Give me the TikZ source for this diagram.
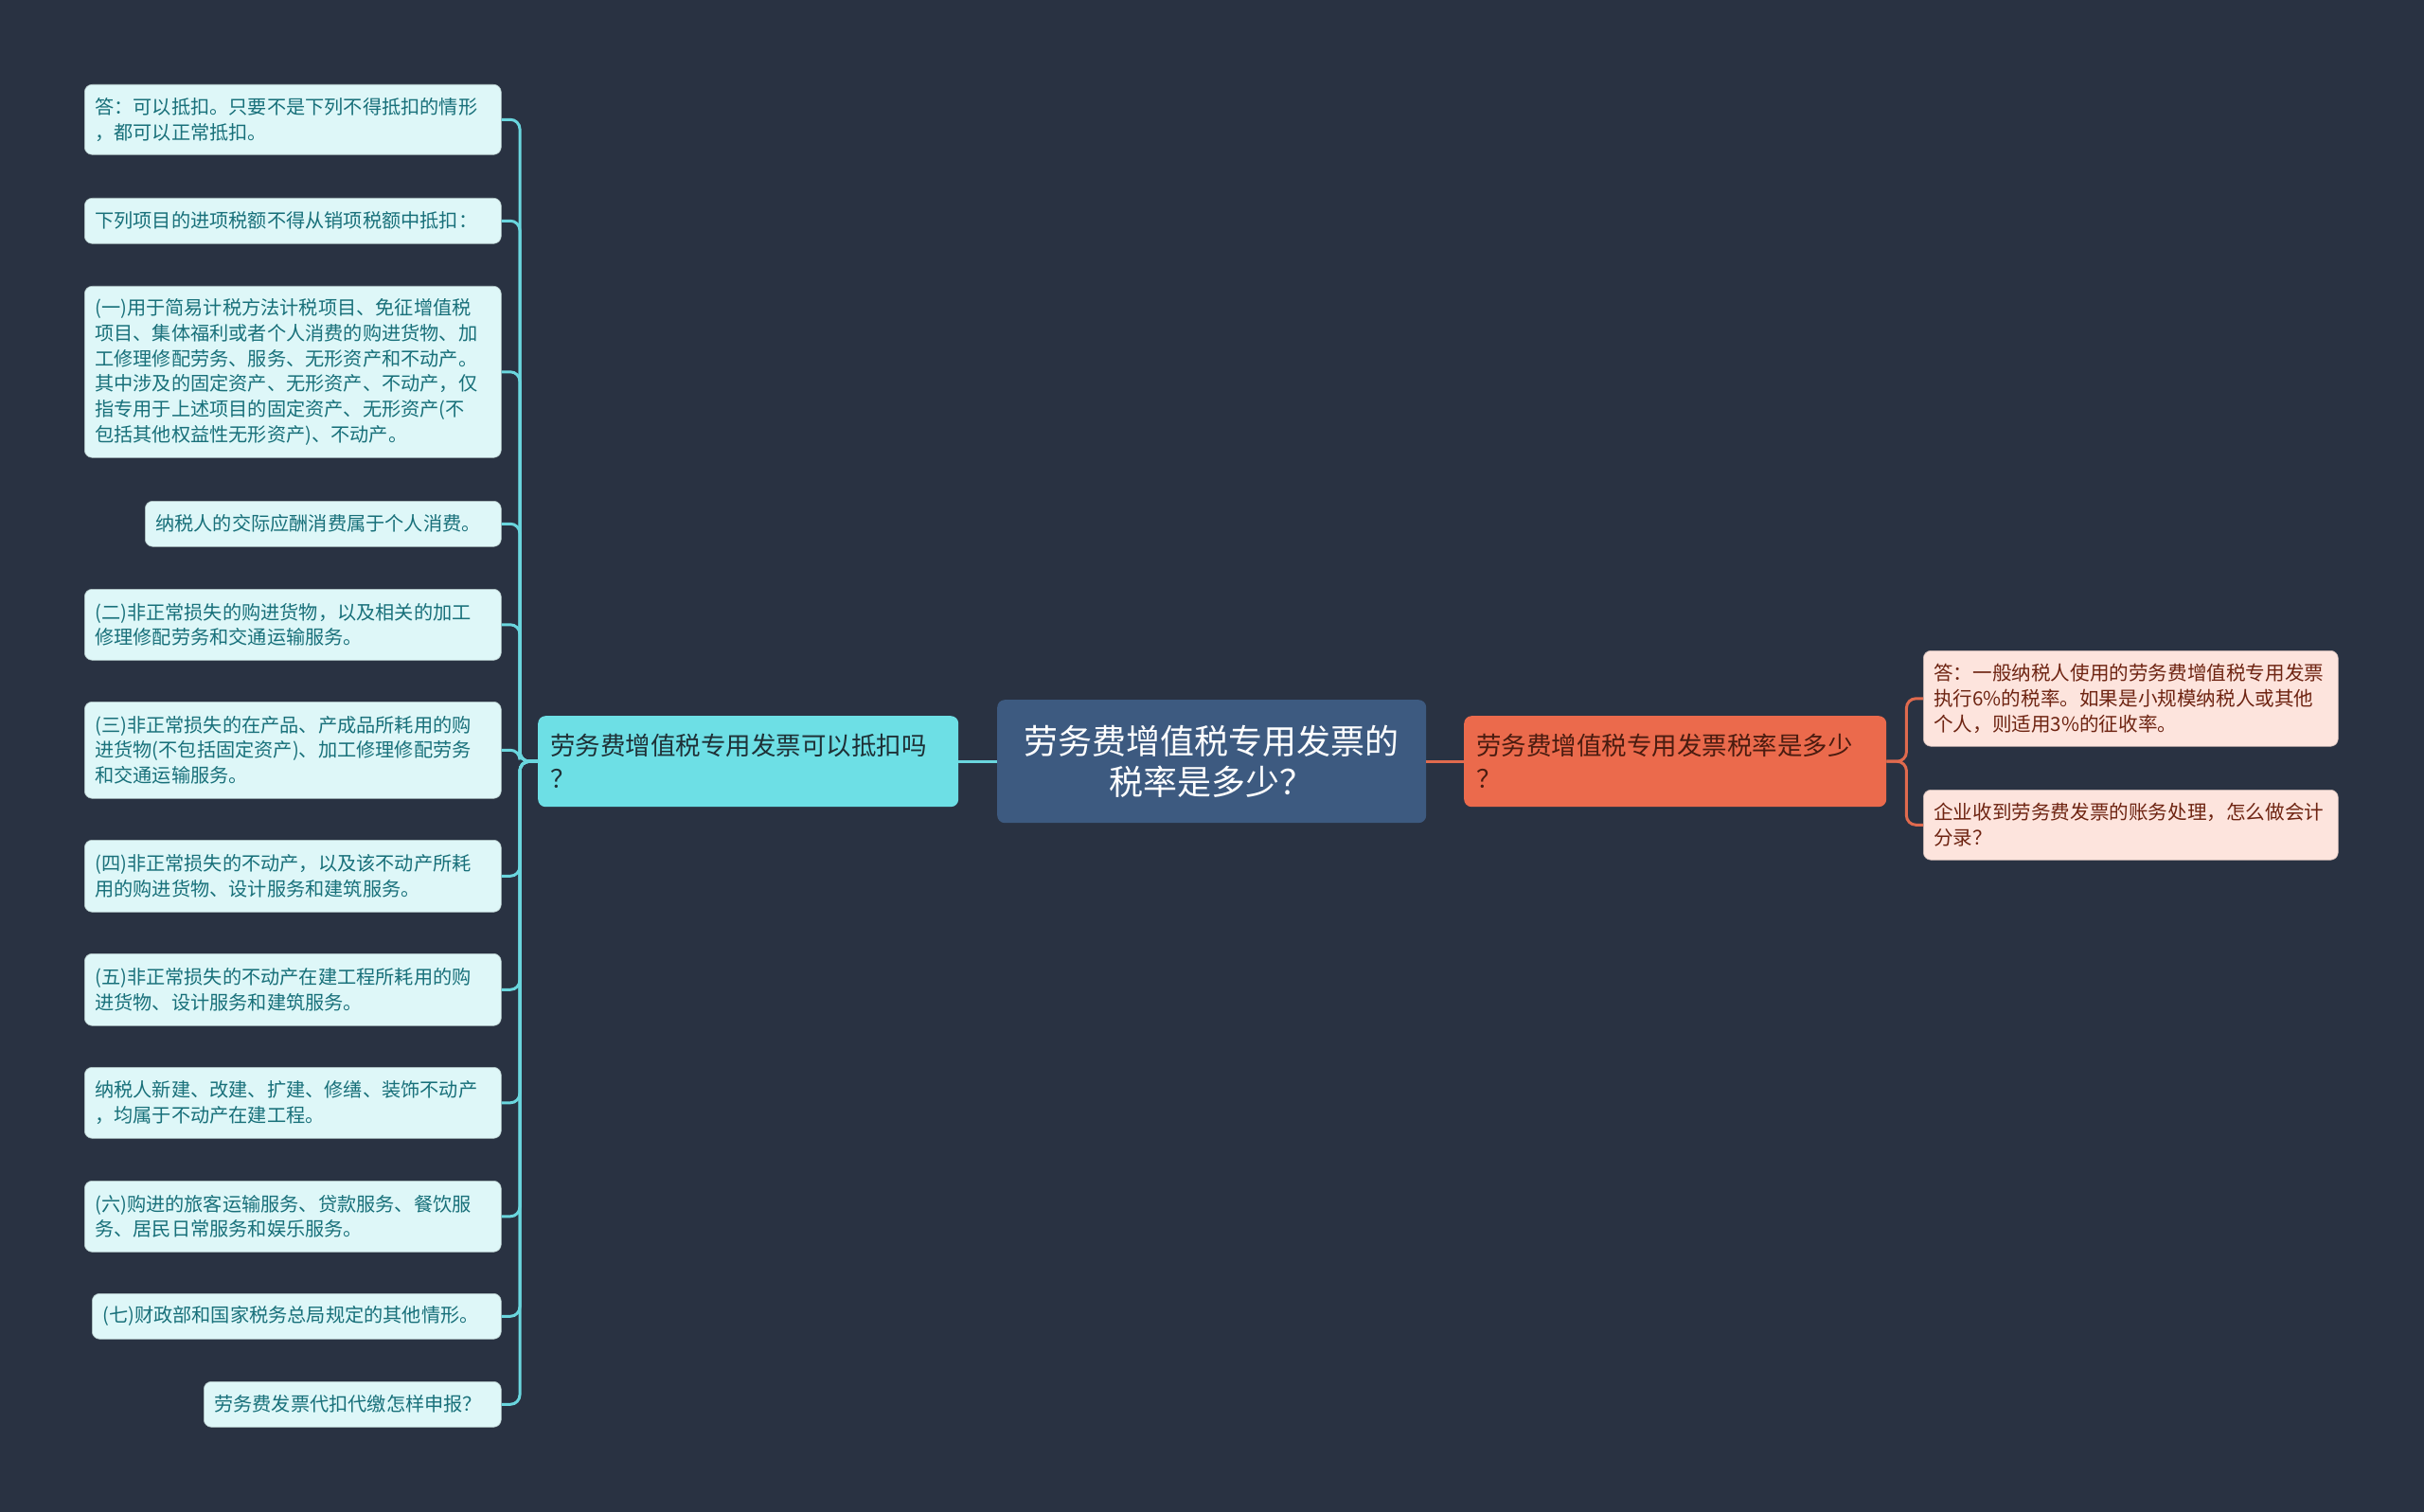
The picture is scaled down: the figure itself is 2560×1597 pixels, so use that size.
\documentclass[tikz,border=0pt]{standalone}
\usepackage{fontspec}
\newfontfamily\cjk{Noto Sans CJK SC}
\usetikzlibrary{calc}
\definecolor{bg}{HTML}{293242}
\definecolor{rootfill}{HTML}{3D5A80}
\definecolor{lbfill}{HTML}{6DDFE5}
\definecolor{lbtext}{HTML}{1E3036}
\definecolor{rbfill}{HTML}{EB6A4C}
\definecolor{rbtext}{HTML}{4A1C10}
\definecolor{llfill}{HTML}{DEF7F8}
\definecolor{lltext}{HTML}{18707A}
\definecolor{rlfill}{HTML}{FDE4DD}
\definecolor{rltext}{HTML}{6E2412}
\definecolor{conlc}{HTML}{6AD6DE}
\definecolor{conrc}{HTML}{E06A4E}
\begin{document}
\begin{tikzpicture}[x=1pt,y=-1pt,
  rootbox/.style={fill=rootfill, rounded corners=8pt, text=white, font=\cjk\fontsize{36}{43.3}\selectfont, align=center, inner xsep=0pt, inner ysep=0pt, anchor=north west, minimum width=453pt, minimum height=130pt, text width=420pt},
  lbox/.style={fill=lbfill, rounded corners=8pt, text=lbtext, font=\cjk\fontsize{26.5}{35}\selectfont, align=left, inner xsep=13pt, inner ysep=0pt, anchor=north west, text width=418pt, minimum height=96pt},
  rbox/.style={fill=rbfill, rounded corners=8pt, text=rbtext, font=\cjk\fontsize{26.5}{35}\selectfont, align=left, inner xsep=13pt, inner ysep=0pt, anchor=north west, text width=420pt, minimum height=96pt},
  leafl/.style={fill=llfill, draw=llfill!80!black, line width=0.6pt, rounded corners=8pt, text=lltext, font=\cjk\fontsize{20.2}{26.7}\selectfont, align=left, inner xsep=11pt, inner ysep=0pt, anchor=north west},
  leafr/.style={fill=rlfill, draw=rlfill!80!black, line width=0.6pt, rounded corners=8pt, text=rltext, font=\cjk\fontsize{20.6}{26.7}\selectfont, align=left, inner xsep=11pt, inner ysep=0pt, anchor=north west, text width=416pt},
  conl/.style={draw=conlc, line width=3pt, rounded corners=10pt},
  conr/.style={draw=conrc, line width=3pt, rounded corners=10pt}
]
\fill[bg] (0,0) rectangle (2560,1597);
\useasboundingbox (0,0) rectangle (2560,1597);

% root and branches
\node[rootbox] (root) at (1053,739) {劳务费增值税专用发票的\\税率是多少？};
\node[lbox] (lb) at (568,756) {劳务费增值税专用发票可以抵扣吗\\？};
\node[rbox] (rb) at (1546,756) {劳务费增值税专用发票税率是多少\\？};

% left leaves
\node[leafl, text width=418pt, minimum height=74pt] (l1) at (89,89) {答：可以抵扣。只要不是下列不得抵扣的情形\\，都可以正常抵扣。};
\node[leafl, text width=418pt, minimum height=48pt] (l2) at (89,209) {下列项目的进项税额不得从销项税额中抵扣：};
\node[leafl, text width=418pt, minimum height=181pt] (l3) at (89,302) {(一)用于简易计税方法计税项目、免征增值税\\项目、集体福利或者个人消费的购进货物、加\\工修理修配劳务、服务、无形资产和不动产。\\其中涉及的固定资产、无形资产、不动产，仅\\指专用于上述项目的固定资产、无形资产(不\\包括其他权益性无形资产)、不动产。};
\node[leafl, text width=354pt, minimum height=48pt] (l4) at (153,529) {纳税人的交际应酬消费属于个人消费。};
\node[leafl, text width=418pt, minimum height=75pt] (l5) at (89,622) {(二)非正常损失的购进货物，以及相关的加工\\修理修配劳务和交通运输服务。};
\node[leafl, text width=418pt, minimum height=102pt] (l6) at (89,741) {(三)非正常损失的在产品、产成品所耗用的购\\进货物(不包括固定资产)、加工修理修配劳务\\和交通运输服务。};
\node[leafl, text width=418pt, minimum height=76pt] (l7) at (89,887) {(四)非正常损失的不动产，以及该不动产所耗\\用的购进货物、设计服务和建筑服务。};
\node[leafl, text width=418pt, minimum height=76pt] (l8) at (89,1007) {(五)非正常损失的不动产在建工程所耗用的购\\进货物、设计服务和建筑服务。};
\node[leafl, text width=418pt, minimum height=75pt] (l9) at (89,1127) {纳税人新建、改建、扩建、修缮、装饰不动产\\，均属于不动产在建工程。};
\node[leafl, text width=418pt, minimum height=75pt] (l10) at (89,1247) {(六)购进的旅客运输服务、贷款服务、餐饮服\\务、居民日常服务和娱乐服务。};
\node[leafl, text width=410pt, minimum height=48pt] (l11) at (97,1366) {(七)财政部和国家税务总局规定的其他情形。};
\node[leafl, text width=292pt, minimum height=48pt] (l12) at (215,1459) {劳务费发票代扣代缴怎样申报？};

% right leaves
\node[leafr, minimum height=101pt] (r1) at (2031,687) {答：一般纳税人使用的劳务费增值税专用发票\\执行6\%的税率。如果是小规模纳税人或其他\\个人，则适用3\%的征收率。};
\node[leafr, minimum height=74pt] (r2) at (2031,834) {企业收到劳务费发票的账务处理，怎么做会计\\分录？};

% connectors
\draw[conl] (root.west) -- (lb.east);
\draw[conr] (root.east) -- (rb.west);
\coordinate (busL) at ($(lb.west)+(-19,0)$);
\coordinate (busR) at ($(rb.east)+(21,0)$);
\foreach \n in {l1,l2,l3,l4,l5,l6,l7,l8,l9,l10,l11,l12}
  \draw[conl] (lb.west) -- (busL) |- (\n.east);
\foreach \n in {r1,r2}
  \draw[conr] (rb.east) -- (busR) |- (\n.west);
\end{tikzpicture}
\end{document}
